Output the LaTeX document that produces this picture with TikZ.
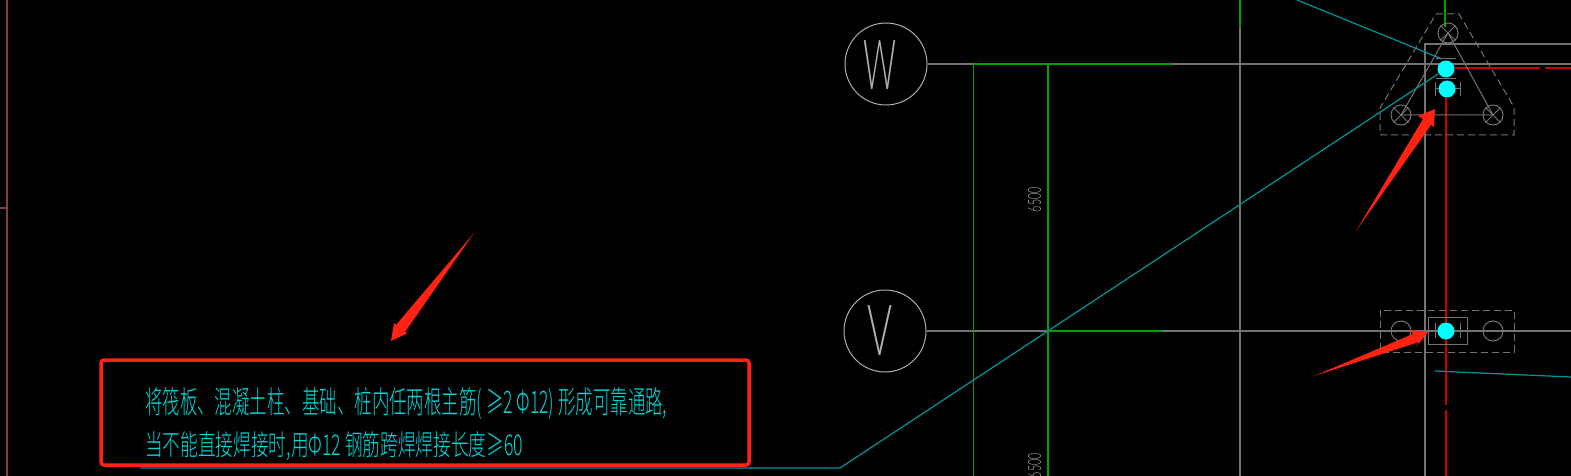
\documentclass[tikz,border=0pt]{standalone}
\usepackage{fontspec}
\setmainfont{Liberation Sans}
\newfontfamily\cjk{Noto Sans CJK SC Light}
\newfontfamily\thinfont{Lato Light}
\usepackage{tikz}
\usetikzlibrary{positioning}

\definecolor{cadgrey}{RGB}{115,115,115}
\definecolor{cadlight}{RGB}{175,175,175}
\definecolor{cadgreen}{RGB}{0,160,0}
\definecolor{cadteal}{RGB}{0,150,150}
\definecolor{cadcyan}{RGB}{0,255,255}
\definecolor{cadred}{RGB}{200,0,0}
\definecolor{cadbrown}{RGB}{125,65,65}
\definecolor{markred}{RGB}{255,35,20}

\tikzset{
  gridline/.style={draw=cadgrey, line width=1.2pt},
  memberline/.style={draw=cadgreen, line width=1.5pt},
  leaderline/.style={draw=cadteal, line width=1.2pt},
  axisline/.style={draw=cadred, line width=1.4pt},
  capline/.style={draw=cadgrey, line width=1pt},
  capdash/.style={draw=cadgrey, line width=1pt, dash pattern=on 7pt off 4pt},
  pile/.style={circle, draw=cadgrey, line width=1pt, minimum size=20pt, inner sep=0pt},
  rebar/.style={circle, fill=cadcyan, minimum size=17pt, inner sep=0pt},
  axisbubble/.style={circle, draw=cadlight, line width=1pt, minimum size=82pt, inner sep=0pt, text=cadlight},
  notetext/.style={inner sep=0pt, anchor=west, text=cadcyan!85!black},
  dimtext/.style={inner sep=0pt, rotate=90, text=cadlight}
}

\begin{document}
\begin{tikzpicture}[x=1pt, y=-1pt]
  \fill[black] (0,0) rectangle (1571,476);
  \useasboundingbox (0,0) rectangle (1571,476);

  % frame on the far left
  \coordinate (f1) at (7,0);
  \coordinate (f2) at (7,476);
  \coordinate (f3) at (0,208);
  \coordinate (f4) at (7,208);
  \path[draw=cadbrown, line width=1.3pt] (f1) -- (f2) (f3) -- (f4);

  % axis bubbles
  \node[axisbubble] (w) at (886,64) {};
  \node[axisbubble] (v) at (885,331) {};
  \node[inner sep=0pt, text=cadlight] (wtext) at (880,64.5) {\resizebox*{33pt}{49pt}{\thinfont W}};
  \node[inner sep=0pt, text=cadlight] (vtext) at (880,330) {\resizebox*{25pt}{50pt}{\thinfont V}};

  \coordinate (wr) at (1571,64);
  \coordinate (vr) at (1571,331);
  \coordinate (g1t) at (1240,0);
  \coordinate (g1b) at (1240,476);
  \coordinate (g2t) at (1425,44);
  \coordinate (g2b) at (1425,476);
  \coordinate (g2r) at (1571,44);
  \path[gridline] (w) -- (wr) (v) -- (vr) (g1t) -- (g1b) (g2r) -- (g2t) -- (g2b);

  % green members
  \coordinate (a1) at (973.5,64);
  \coordinate (a2) at (1048,64);
  \coordinate (a3) at (1171,64);
  \coordinate (b1) at (973.5,476);
  \coordinate (b2) at (1048,331);
  \coordinate (b3) at (1048,476);
  \coordinate (b4) at (1162,331);
  \coordinate (c1) at (1240,0);
  \coordinate (c2) at (1240,27);
  \coordinate (c3) at (1445,0);
  \coordinate (c4) at (1445,27);
  \path[memberline] (a1) -- (a3) (a1) -- (b1) (a2) -- (b3) (b2) -- (b4) (c1) -- (c2) (c3) -- (c4);

  % red axes
  \coordinate (r1) at (1446,97);
  \coordinate (r2) at (1446,405);
  \coordinate (r3) at (1446,410);
  \coordinate (r4) at (1446,476);
  \coordinate (r5) at (1455,68);
  \coordinate (r6) at (1540,68);
  \coordinate (r7) at (1545,68);
  \coordinate (r8) at (1571,68);
  \path[axisline] (r1) -- (r2) (r3) -- (r4) (r5) -- (r6) (r7) -- (r8);

  % triangular cap
  \node[pile] (p1) at (1448,33) {};
  \node[pile] (p2) at (1401,115) {};
  \node[pile] (p3) at (1493,115) {};
  \path[capline] (p1.center) -- (p2.center) -- (p3.center) -- cycle;
  \path[capline]
  (p1.north west) -- (p1.south east) (p1.north east) -- (p1.south west)
  (p2.north west) -- (p2.south east) (p2.north east) -- (p2.south west)
  (p3.north west) -- (p3.south east) (p3.north east) -- (p3.south west);
  \coordinate (t1) at (1436,14);
  \coordinate (t2) at (1459,14);
  \coordinate (t3) at (1514,107);
  \coordinate (t4) at (1514,135);
  \coordinate (t5) at (1380,135);
  \coordinate (t6) at (1380,108);
  \path[capdash] (t1) -- (t2) -- (t3) -- (t4) -- (t5) -- (t6) -- cycle;

  % rectangular cap
  \node[pile] (p4) at (1401,331) {};
  \node[pile] (p5) at (1493,331) {};
  \node[draw=cadgrey, line width=1pt, minimum width=39pt, minimum height=27pt, inner sep=0pt] (cap) at (1447.5,330.5) {};
  \coordinate (d1) at (1380,310);
  \coordinate (d2) at (1514,352);
  \path[capdash] (d1) rectangle (d2);

  % leaders
  \coordinate (l1) at (1297,0);
  \coordinate (l2) at (1442,59);
  \coordinate (l3) at (140,468);
  \coordinate (l4) at (840,468);
  \coordinate (l5) at (1438,74);
  \coordinate (l6) at (1435,371);
  \coordinate (l7) at (1571,377);
  \path[leaderline] (l1) -- (l2) (l3) -- (l4) -- (l5) (l6) -- (l7);

  % rebars
  \coordinate (h1) at (1436,59);
  \coordinate (h2) at (1456,59);
  \coordinate (h3) at (1436,79);
  \coordinate (h4) at (1456,79);
  \coordinate (h5) at (1435,82);
  \coordinate (h6) at (1435,96);
  \coordinate (h7) at (1460,82);
  \coordinate (h8) at (1460,96);
  \coordinate (h9) at (1435,323);
  \coordinate (h10) at (1435,338);
  \coordinate (h11) at (1460,323);
  \coordinate (h12) at (1460,338);
  \coordinate (h13) at (1435,89);
  \coordinate (h14) at (1460,89);
  \path[capline] (h1) -- (h2) (h3) -- (h4) (h5) -- (h6) (h7) -- (h8)
  (h13) -- (h14) (h9) -- (h10) (h11) -- (h12);
  \node[rebar] (s1) at (1446,69) {};
  \node[rebar] (s2) at (1447,89) {};
  \node[rebar] (s3) at (1446,331) {};

  % dimensions
  \node[dimtext] (dim1) at (1034.5,199.5) {\resizebox*{25pt}{13pt}{\thinfont 6500}};
  \node[dimtext] (dim2) at (1034.5,465.5) {\resizebox*{25pt}{13pt}{\thinfont 6500}};

  % note
  \node[draw=markred, line width=3.5pt, rounded corners=3pt, minimum width=648pt, minimum height=105pt, inner sep=0pt] (notebox) at (425,412.5) {};
  \node[notetext] (line1) at (145,403) {\resizebox*{522pt}{32pt}{\cjk 将筏板、混凝土柱、基础、桩内任两根主筋( ≥2 Φ12) 形成可靠通路,}};
  \node[notetext] (line2) at (145,446) {\resizebox*{378pt}{29pt}{\cjk 当不能直接焊接时,用Φ12 钢筋跨焊焊接长度≥60}};

  % marks
  \fill[markred] (474,233) -- (405,332) -- (408,333) -- (391,341) -- (394,323) -- (396,325) -- cycle;
  \fill[markred] (1356,231) -- (1423,119) -- (1418,116) -- (1435,109) -- (1434,127) -- (1431,125) -- cycle;
  \fill[markred] (1314,376) -- (1413,334) -- (1410,330) -- (1428,332) -- (1416,347) -- (1419,342) -- cycle;
\end{tikzpicture}
\end{document}
